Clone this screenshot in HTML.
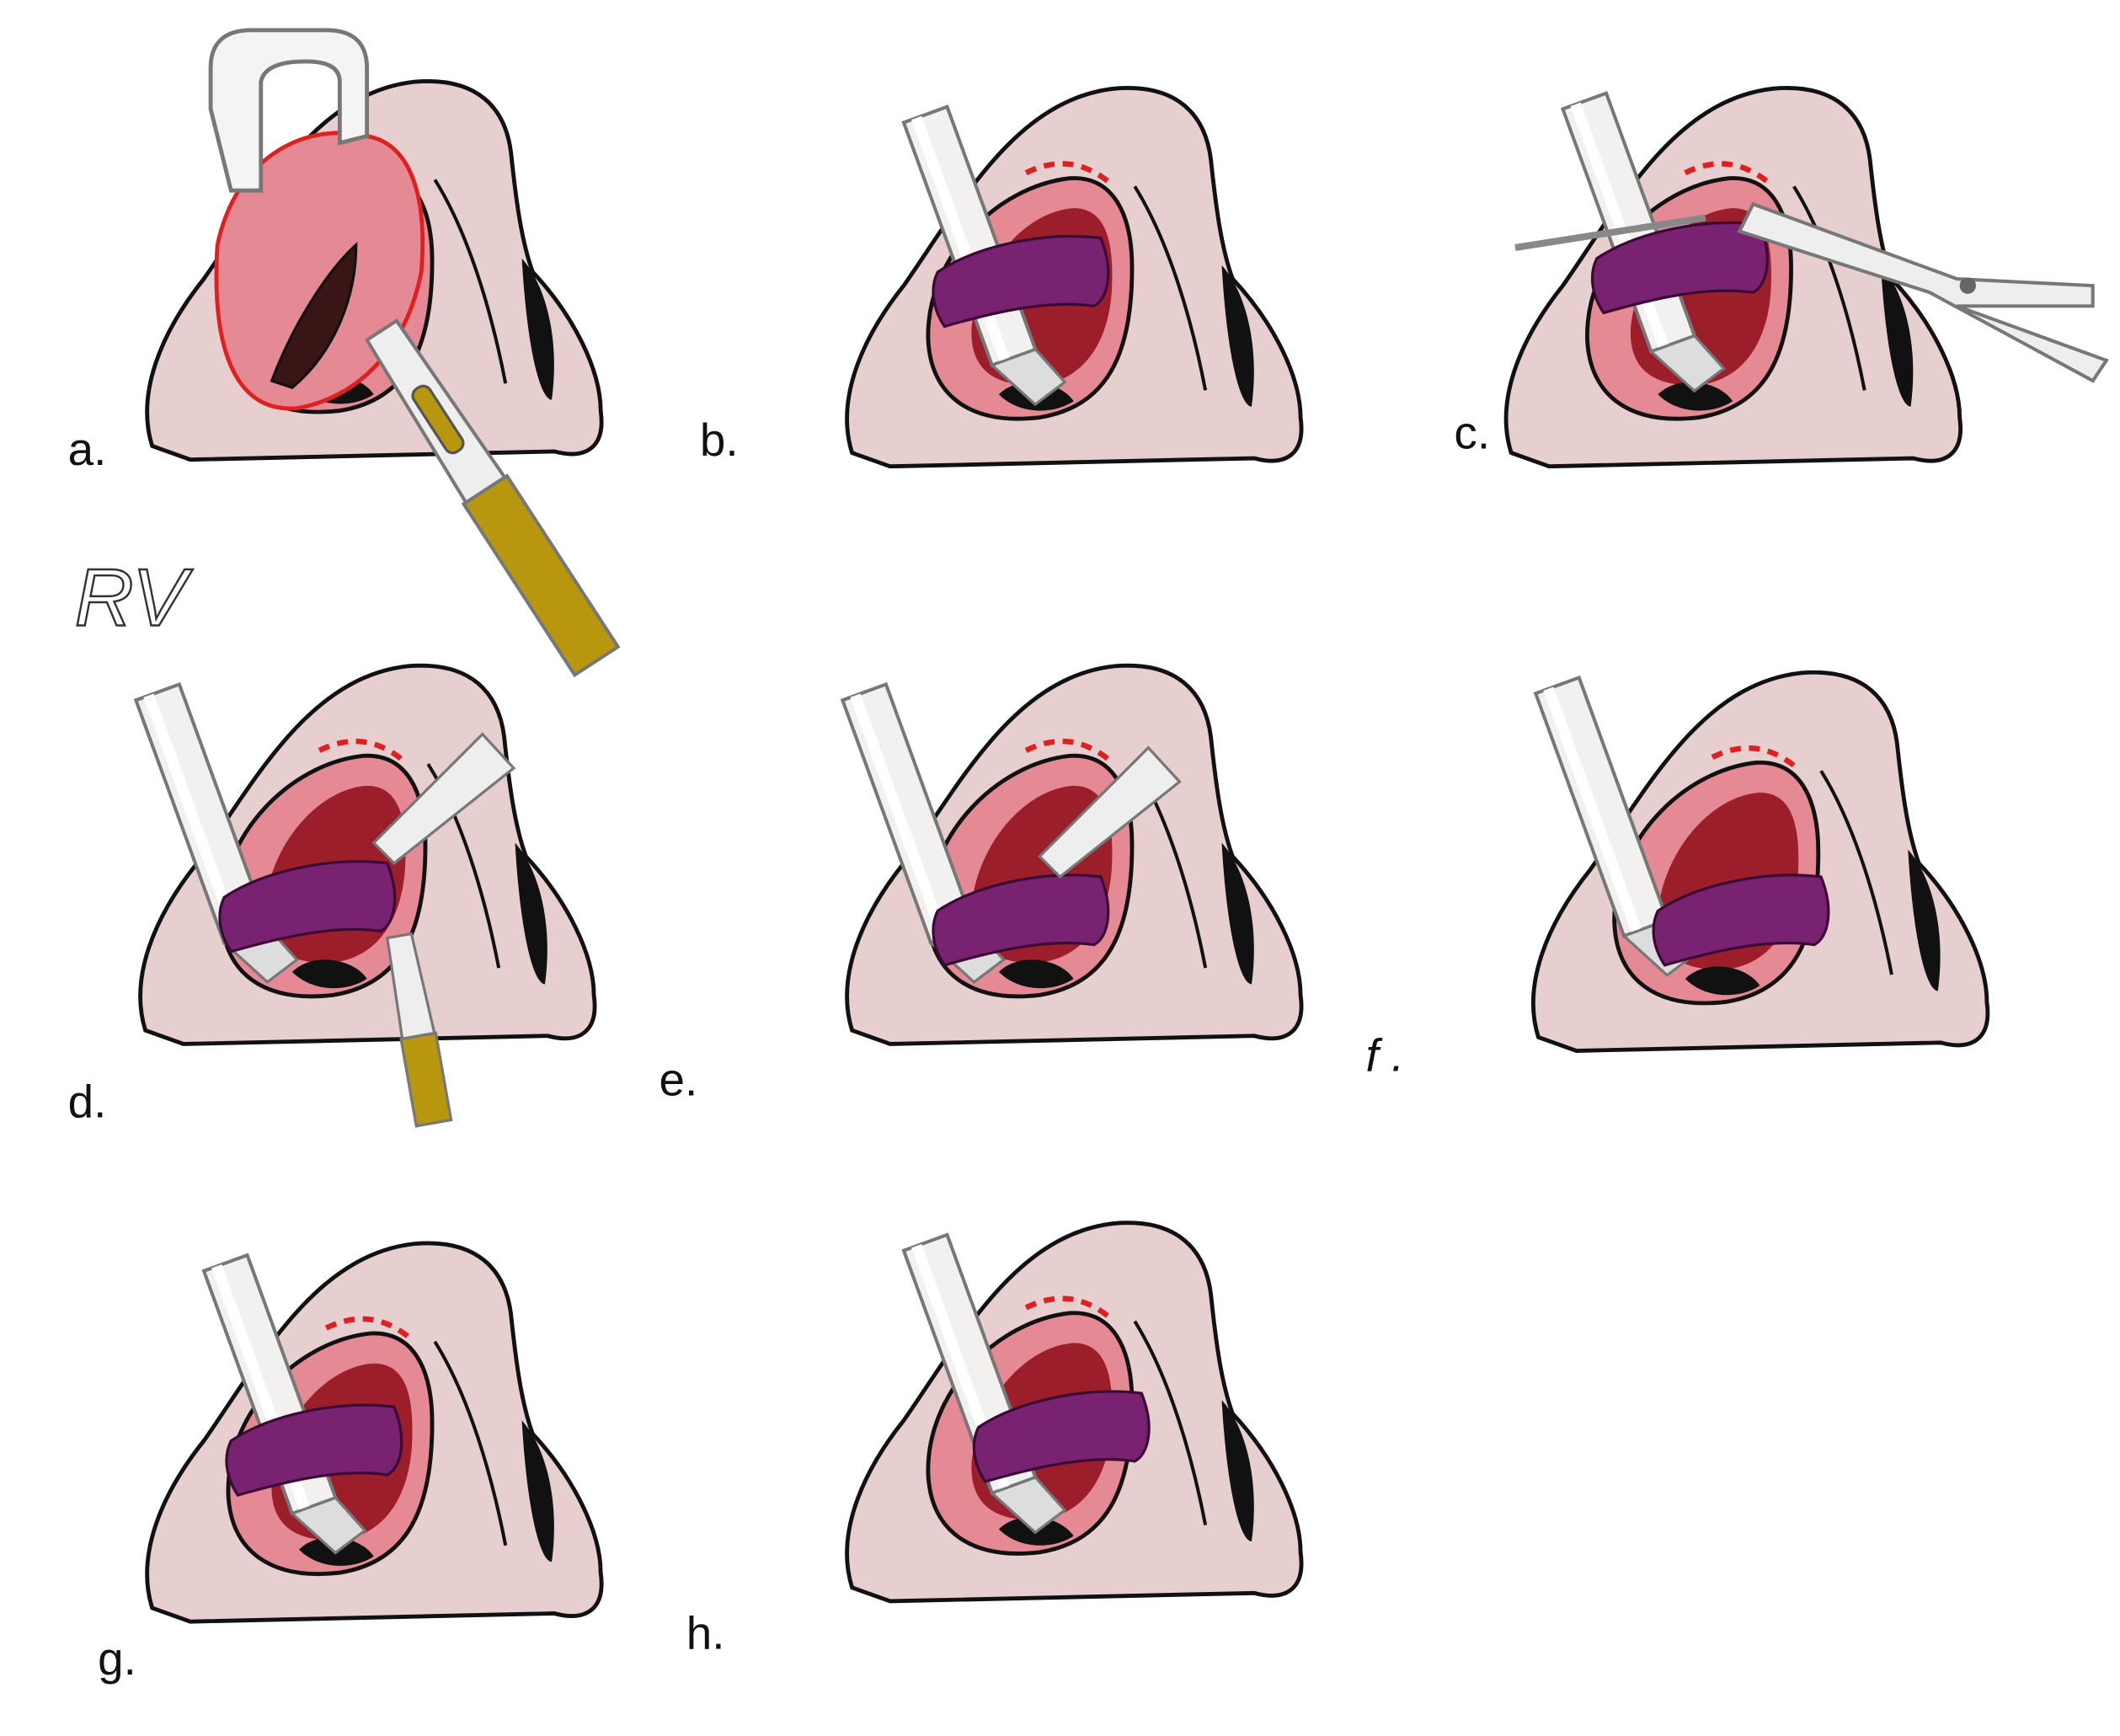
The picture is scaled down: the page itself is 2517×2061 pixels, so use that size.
<!DOCTYPE html>
<html><head><meta charset="utf-8"><style>
html,body{margin:0;padding:0;background:#fff;}
svg{display:block;}
text{font-family:"Liberation Sans",sans-serif;font-size:34px;fill:#111;}
</style></head><body>
<svg width="2517" height="2061" viewBox="0 0 1560 1277" xmlns="http://www.w3.org/2000/svg">
<defs>
<g id="nose">
 <path d="M12,278 C0,240 18,195 50,155 C92,95 132,18 205,10 C252,6 272,30 276,62 C280,100 284,128 292,150 C322,182 342,222 342,252 C346,280 330,288 308,282 L40,288 Z" fill="#e8cfcf" stroke="#111" stroke-width="3"/>
 <path d="M68,195 C66,135 118,82 172,76 C204,74 218,102 218,142 C218,205 200,244 150,252 C98,258 70,235 68,195Z" fill="#e58a95" stroke="#111" stroke-width="3"/>
 <path d="M100,185 C105,140 140,100 175,98 C200,98 205,125 203,160 C200,200 180,225 150,228 C115,230 98,215 100,185Z" fill="#9c1e2a"/>
 <path d="M120,235 C135,220 165,225 175,240 C160,250 135,250 120,235Z" fill="#111"/>
 <path d="M220,82 C245,122 262,180 272,232" fill="none" stroke="#111" stroke-width="2.5"/>
 <path d="M284,140 C302,160 312,200 306,244 C298,244 288,210 284,140Z" fill="#111"/>
 <path d="M140,72 Q172,56 200,78" fill="none" stroke="#e02020" stroke-width="4" stroke-dasharray="8,6"/>
</g>
<g id="retr">
 <rect x="0" y="0" width="34" height="190" fill="#f3f0f0" stroke="#777" stroke-width="2.5"/>
 <rect x="6" y="0" width="8" height="190" fill="#fff"/>
 <path d="M0,190 L34,190 L46,220 L20,228 Z" fill="#ddd" stroke="#777" stroke-width="2"/>
</g>
<g id="flap">
 <path d="M0,30 C30,10 80,0 120,5 C130,30 125,50 115,55 C80,50 40,60 5,70 C-5,55 -5,40 0,30Z" fill="#7a2272" stroke="#3a0a35" stroke-width="2"/>
</g>
</defs>

<!-- a -->
<use href="#nose" transform="translate(100,50)"/>
<path d="M160,180 C175,110 230,90 270,100 C300,105 315,140 310,200 C300,250 270,290 220,300 C175,305 155,260 160,180Z" fill="#e58a95" stroke="#e02020" stroke-width="3"/>
<path d="M200,280 C215,240 240,200 262,180 C262,220 245,260 215,285Z" fill="#3a1515" stroke="#111" stroke-width="2"/>
<path d="M155,80 L155,50 Q155,22 185,22 L240,22 Q270,22 270,50 L270,100 L250,105 L250,60 Q250,45 225,45 Q195,45 192,60 L192,140 L170,140 Z" fill="#f5f3f3" stroke="#777" stroke-width="3"/>
<g transform="translate(270,250) rotate(-33)">
 <path d="M0,0 L26,0 L30,140 L-4,140 Z" fill="#eee" stroke="#777" stroke-width="2.5"/>
 <rect x="-6" y="140" width="38" height="150" fill="#b8960e" stroke="#777" stroke-width="2.5"/>
 <rect x="5" y="50" width="14" height="55" rx="6" fill="#b8960e" stroke="#555" stroke-width="2"/>
</g>
<text x="50" y="342">a.</text>
<text x="55" y="460" font-style="italic" style="font-size:60px;fill:none;stroke:#333;stroke-width:1.5">RV</text>

<!-- b -->
<use href="#nose" transform="translate(615,55)"/>
<use href="#retr" transform="translate(665,90) rotate(-20)"/>
<use href="#flap" transform="translate(690,170)"/>
<text x="515" y="335">b.</text>

<!-- c -->
<use href="#nose" transform="translate(1100,55)"/>
<use href="#retr" transform="translate(1150,80) rotate(-20)"/>
<use href="#flap" transform="translate(1175,160)"/>
<path d="M1115,182 L1255,160" stroke="#888" stroke-width="5"/>
<path d="M1290,150 L1440,205 L1540,210 L1540,225 L1440,225 L1550,265 L1540,280 L1420,215 L1280,170 Z" fill="#eee" stroke="#777" stroke-width="2.5"/>
<circle cx="1448" cy="210" r="6" fill="#666"/>
<text x="1070" y="330">c.</text>

<!-- d -->
<use href="#nose" transform="translate(95,480)"/>
<use href="#retr" transform="translate(100,515) rotate(-20)"/>
<use href="#flap" transform="translate(165,630)"/>
<path d="M275,620 L355,540 L378,565 L290,635Z" fill="#eee" stroke="#777" stroke-width="2"/>
<g transform="translate(285,690) rotate(-10)">
 <path d="M0,0 L18,0 L22,75 L-2,75Z" fill="#eee" stroke="#777" stroke-width="2"/>
 <rect x="-3" y="75" width="26" height="65" fill="#b8960e" stroke="#777" stroke-width="2"/>
</g>
<text x="50" y="822">d.</text>

<!-- e -->
<use href="#nose" transform="translate(615,480)"/>
<use href="#retr" transform="translate(620,515) rotate(-20)"/>
<use href="#flap" transform="translate(690,640)"/>
<path d="M765,630 L845,550 L868,575 L780,645Z" fill="#eee" stroke="#777" stroke-width="2"/>
<text x="485" y="806">e.</text>

<!-- f -->
<use href="#nose" transform="translate(1120,485)"/>
<use href="#retr" transform="translate(1130,510) rotate(-20)"/>
<use href="#flap" transform="translate(1220,640)"/>
<text x="1005" y="788" font-style="italic">f .</text>

<!-- g -->
<use href="#nose" transform="translate(100,905)"/>
<use href="#retr" transform="translate(150,935) rotate(-20)"/>
<use href="#flap" transform="translate(170,1030)"/>
<text x="72" y="1232">g.</text>

<!-- h -->
<use href="#nose" transform="translate(615,890)"/>
<use href="#retr" transform="translate(665,920) rotate(-20)"/>
<use href="#flap" transform="translate(720,1020)"/>
<text x="505" y="1213">h.</text>
</svg>
</body></html>
